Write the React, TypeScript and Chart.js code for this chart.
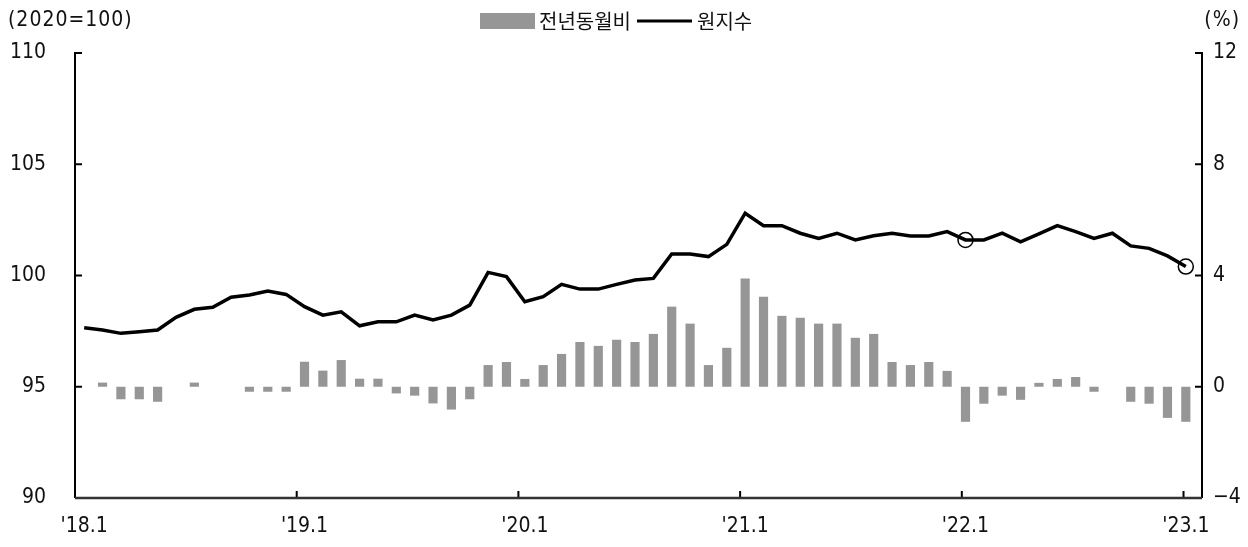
import React, { useEffect, useRef } from "react";
import { Chart, registerables } from "chart.js";

Chart.register(...registerables);

const KFONT = '"Noto Sans CJK KR", "Noto Sans", sans-serif';
const NFONT = '"Liberation Sans Narrow", "DejaVu Sans Condensed", "Noto Sans CJK KR", sans-serif';

// Categories: monthly, 2018.1 – 2023.1
const yearLabels = ["18", "19", "20", "21", "22"];
const monthNums = [1, 2, 3, 4, 5, 6, 7, 8, 9, 10, 11, 12];
const categories: string[] = [
  ...yearLabels.flatMap((y) => monthNums.map((m) => `${y}.${m}`)),
  "23.1",
];

// 원지수 (2020=100), left axis
const indexValues = [
  97.65, 97.55, 97.4, 97.47, 97.55, 98.12, 98.48, 98.57, 99.02, 99.12, 99.3, 99.15,
  98.6, 98.22, 98.37, 97.74, 97.92, 97.92, 98.22, 98.0, 98.22, 98.67, 100.14, 99.95,
  98.82, 99.05, 99.6, 99.39, 99.39, 99.6, 99.8, 99.87, 100.97, 100.97, 100.85, 101.4,
  102.8, 102.24, 102.24, 101.9, 101.67, 101.9, 101.6, 101.79, 101.9, 101.78, 101.78, 101.97,
  101.6, 101.6, 101.9, 101.51, 101.87, 102.24, 101.97, 101.67, 101.9, 101.33, 101.22, 100.88,
  100.4,
];

// 전년동월비 (%), right axis
const yoyValues = [
  0, 0.15, -0.45, -0.45, -0.54, 0, 0.15, 0, 0, -0.18, -0.18, -0.18,
  0.9, 0.58, 0.96, 0.29, 0.29, -0.24, -0.32, -0.6, -0.82, -0.45, 0.78, 0.89,
  0.28, 0.78, 1.18, 1.61, 1.47, 1.69, 1.61, 1.9, 2.88, 2.27, 0.78, 1.4,
  3.89, 3.24, 2.55, 2.48, 2.27, 2.27, 1.76, 1.9, 0.89, 0.78, 0.89, 0.57,
  -1.26, -0.61, -0.32, -0.47, 0.14, 0.28, 0.35, -0.18, 0, -0.54, -0.61, -1.12,
  -1.26,
];

const circledPoints = ["22.1", "23.1"];

const leftTicks = [90, 95, 100, 105, 110];
const rightTicks = [-4, 0, 4, 8, 12];

const barLabel = "전년동월비";
const lineLabel = "원지수";
const leftUnit = "(2020=100)";
const rightUnit = "(%)";

const decorPlugin = {
  id: "decor",
  afterDraw(chart: any) {
    const { ctx, chartArea, scales } = chart;
    const left = chartArea.left;
    const top = chartArea.top;
    const bottom = chartArea.bottom;
    const axisRight = chartArea.right + 7;
    const line = (x1: number, y1: number, x2: number, y2: number) => {
      ctx.beginPath();
      ctx.moveTo(x1, y1);
      ctx.lineTo(x2, y2);
      ctx.stroke();
    };
    ctx.save();
    ctx.strokeStyle = "#000";
    ctx.lineWidth = 2;
    line(left, top - 1, left, bottom);
    line(axisRight, top - 1, axisRight, bottom);
    scales.y.ticks.forEach((t: any) => {
      const py = scales.y.getPixelForValue(t.value);
      line(left, py, left + 7, py);
    });
    scales.y1.ticks.forEach((t: any) => {
      const py = scales.y1.getPixelForValue(t.value);
      line(axisRight, py, axisRight - 7, py);
    });
    const n = categories.length;
    const span = axisRight - left;
    for (let k = 12; k < n; k += 12) {
      const px = left + (k * span) / n;
      line(px, bottom, px, bottom - 7);
    }
    ctx.strokeStyle = "#333";
    ctx.lineWidth = 2.5;
    line(left, bottom, axisRight, bottom);

    // unit labels
    ctx.fillStyle = "#111";
    ctx.font = `21px ${NFONT}`;
    ctx.textBaseline = "middle";
    ctx.textAlign = "left";
    (ctx as any).letterSpacing = "1px";
    ctx.fillText(leftUnit, 8, 21);
    ctx.textAlign = "right";
    ctx.fillText(rightUnit, 1240, 21);
    (ctx as any).letterSpacing = "0px";

    // legend
    ctx.font = `20px ${KFONT}`;
    ctx.textAlign = "left";
    let x = 480;
    ctx.fillStyle = "#969696";
    ctx.fillRect(x, 13, 55, 16);
    x += 59;
    ctx.fillStyle = "#111";
    ctx.fillText(barLabel, x, 21);
    x += ctx.measureText(barLabel).width + 6;
    ctx.strokeStyle = "#000";
    ctx.lineWidth = 3;
    line(x, 21, x + 55, 21);
    x += 60;
    ctx.fillText(lineLabel, x, 21);
    ctx.restore();
  },
};

export default function App() {
  const ref = useRef<HTMLCanvasElement | null>(null);

  useEffect(() => {
    if (!ref.current) return;
    Chart.defaults.font.family = NFONT;
    const tickFont = { size: 21, family: NFONT };
    const chart = new Chart(ref.current, {
      type: "bar",
      data: {
        labels: categories,
        datasets: [
          {
            type: "line",
            label: lineLabel,
            data: indexValues,
            yAxisID: "y",
            borderColor: "#000",
            borderWidth: 3.5,
            backgroundColor: "rgba(0,0,0,0)",
            pointRadius: categories.map((c) => (circledPoints.includes(c) ? 7.5 : 0)),
            pointBorderWidth: 1.5,
            pointBorderColor: "#000",
            pointBackgroundColor: "rgba(0,0,0,0)",
            tension: 0,
            order: 0,
          } as any,
          {
            type: "bar",
            label: barLabel,
            data: yoyValues,
            yAxisID: "y1",
            backgroundColor: "#969696",
            barPercentage: 0.5,
            categoryPercentage: 1,
            order: 1,
          },
        ],
      },
      options: {
        animation: false,
        responsive: false,
        devicePixelRatio: 1,
        layout: { padding: { top: 53, left: 0, right: 0, bottom: 0 } },
        plugins: {
          legend: { display: false },
          tooltip: { enabled: false },
        },
        scales: {
          x: {
            offset: true,
            grid: { display: false, drawTicks: false },
            border: { display: false },
            ticks: {
              autoSkip: false,
              maxRotation: 0,
              minRotation: 0,
              padding: 16,
              color: "#111",
              font: tickFont,
              callback: (_v: any, i: number) =>
                categories[i].endsWith(".1") ? "'" + categories[i] : "",
            },
            afterFit: (s: any) => {
              s.height = 49;
            },
          },
          y: {
            position: "left",
            min: 90,
            max: 110,
            afterBuildTicks: (s: any) => {
              s.ticks = leftTicks.map((v) => ({ value: v }));
            },
            grid: { display: false, drawTicks: false },
            border: { display: false },
            ticks: {
              padding: 29,
              color: "#111",
              font: tickFont,
            },
            afterFit: (s: any) => {
              s.width = 75;
            },
          },
          y1: {
            position: "right",
            min: -4,
            max: 12,
            afterBuildTicks: (s: any) => {
              s.ticks = rightTicks.map((v) => ({ value: v }));
            },
            grid: { display: false, drawTicks: false },
            border: { display: false },
            ticks: {
              padding: 18,
              color: "#111",
              font: tickFont,
              callback: (v: any) => (Number(v) < 0 ? "\u2212" + Math.abs(Number(v)) : String(v)),
            },
            afterFit: (s: any) => {
              s.width = 53;
            },
          },
        },
      },
      plugins: [decorPlugin],
    });
    return () => chart.destroy();
  }, []);

  return (
    <div style={{ position: "absolute", left: 0, top: 0, width: 1248, height: 547, background: "#fff" }}>
      <canvas ref={ref} width={1248} height={547} style={{ width: 1248, height: 547, display: "block" }} />
    </div>
  );
}
